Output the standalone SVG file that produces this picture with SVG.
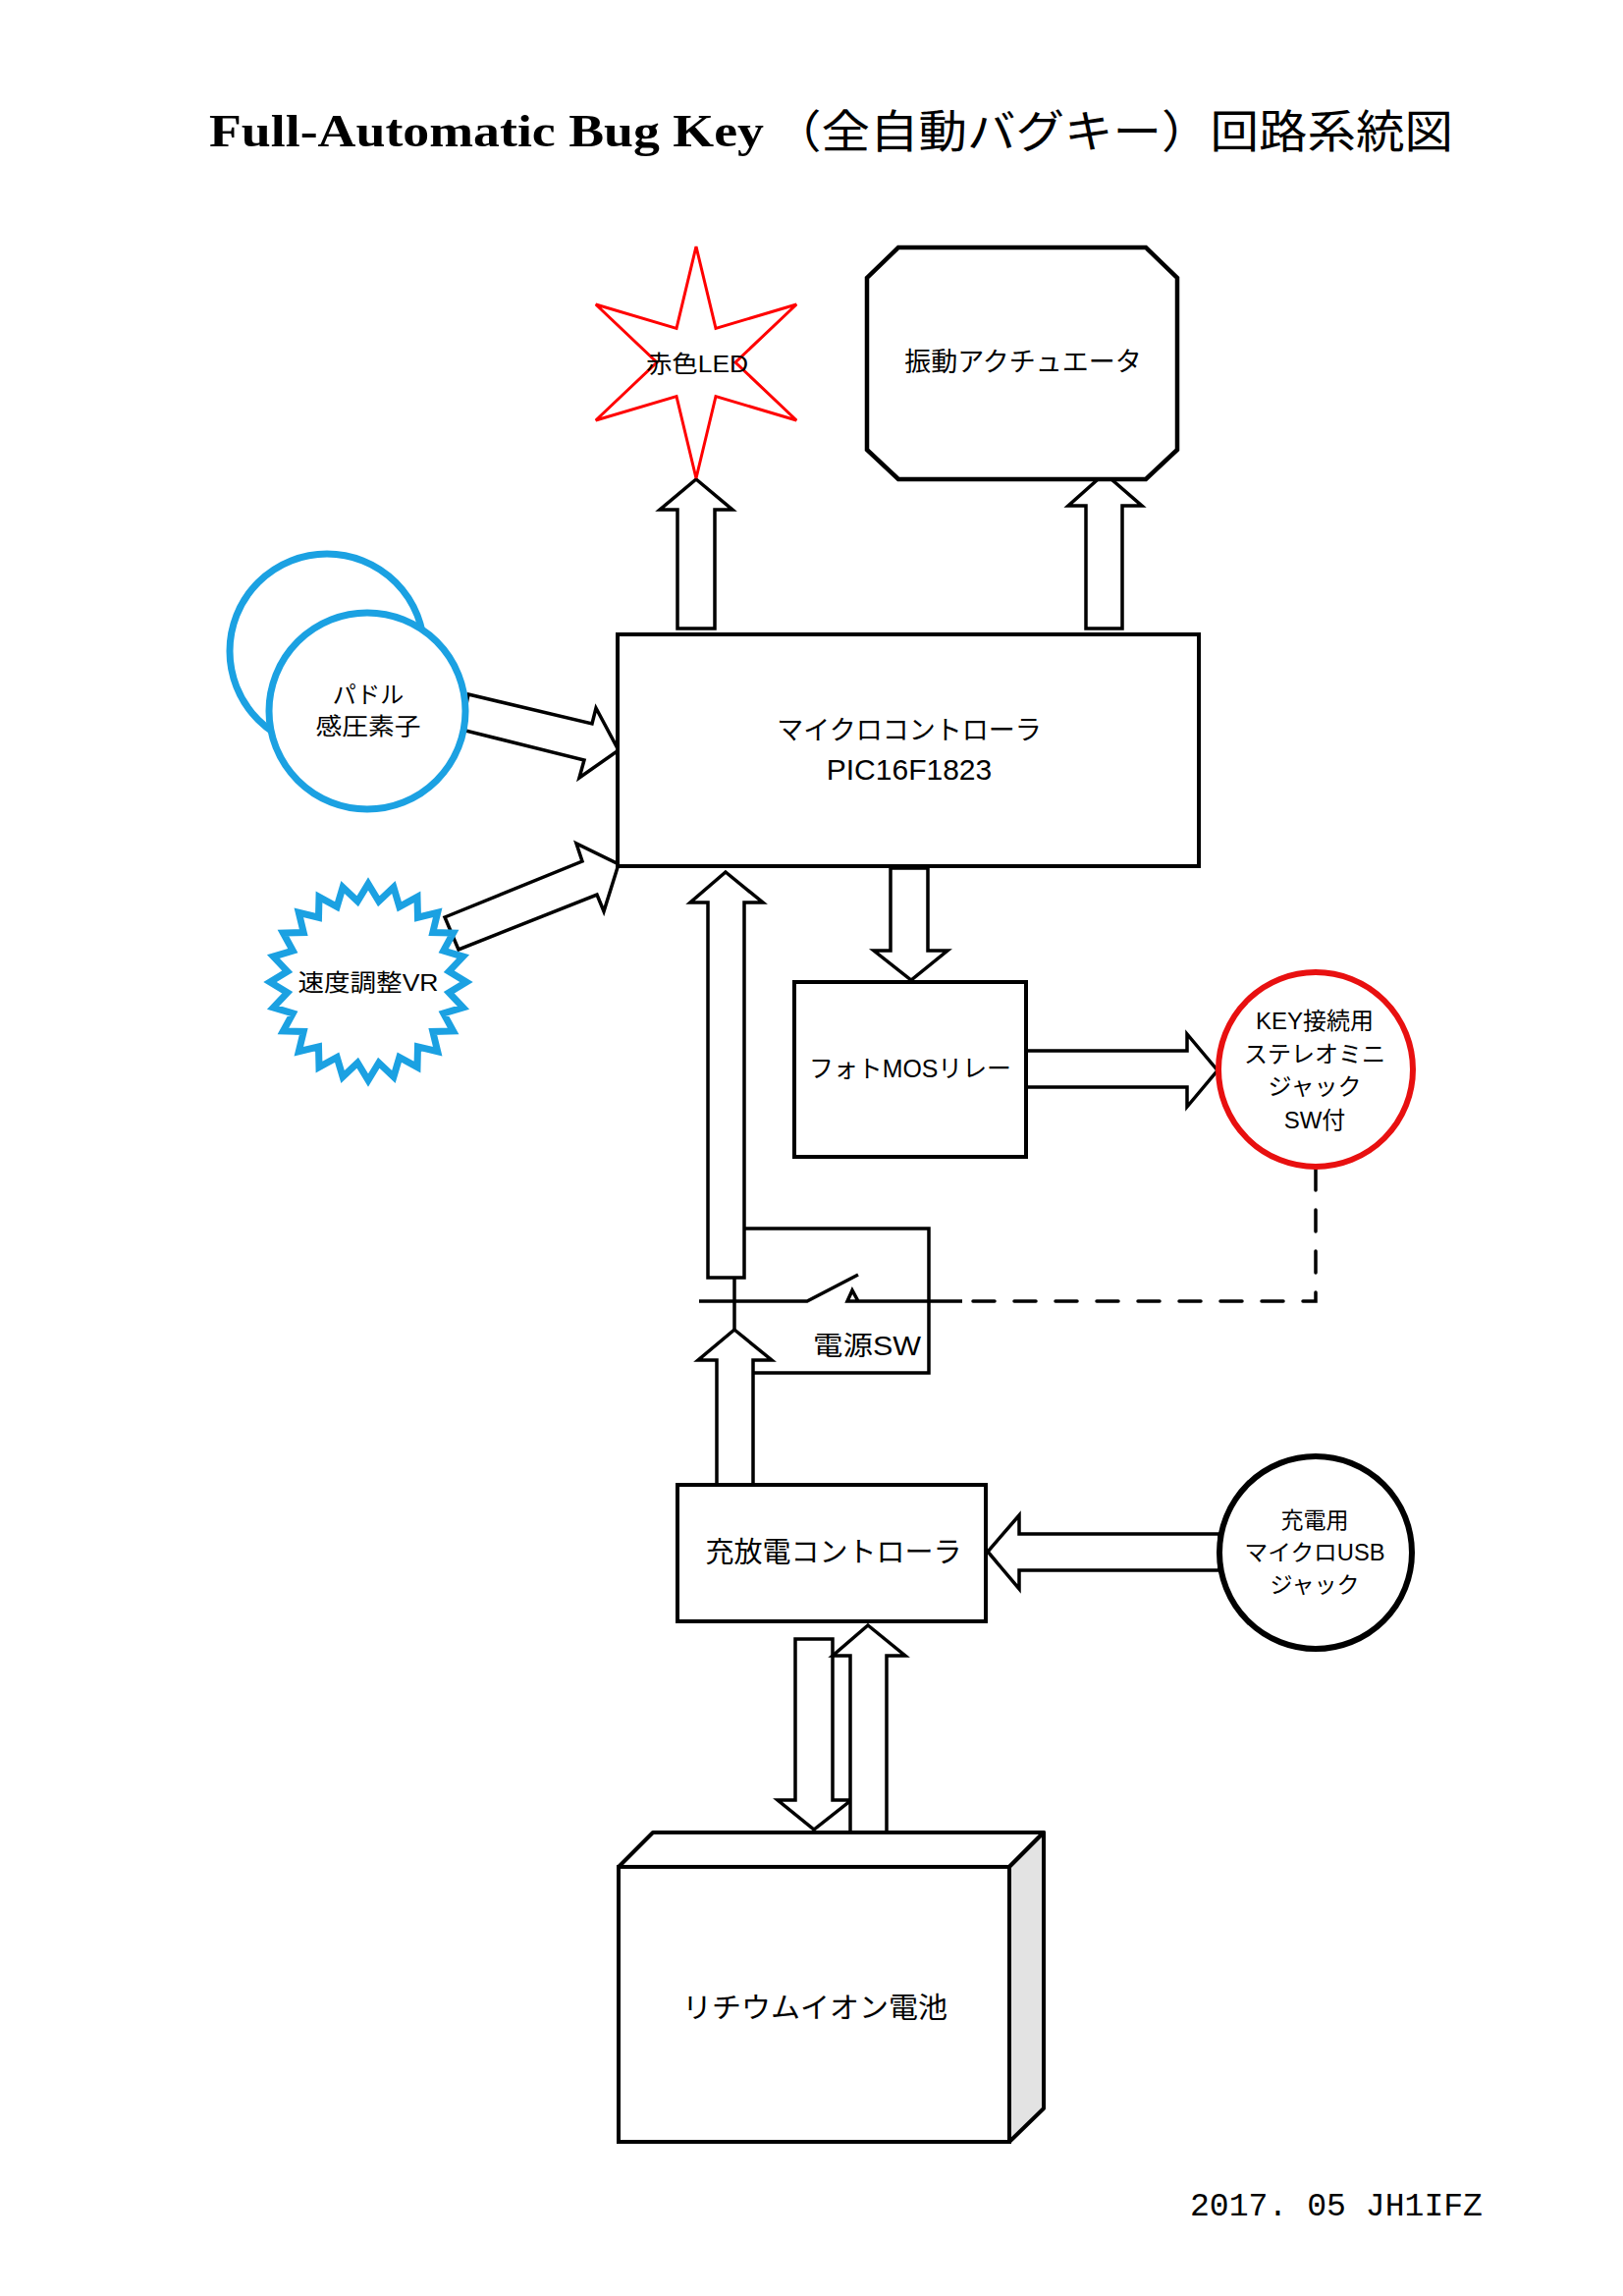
<svg xmlns="http://www.w3.org/2000/svg" width="1653" height="2338" viewBox="0 0 1653 2338">
<style>
.box{fill:#fff;stroke:#000;stroke-width:4}
.arr{fill:#fff;stroke:#000;stroke-width:3.5;stroke-linejoin:miter}
.ln{fill:none;stroke:#000;stroke-width:3.5}
.t{font-family:"Liberation Sans","Noto Sans CJK JP",sans-serif;fill:#000;text-anchor:middle}
.blue{fill:#fff;stroke:#1ba1e2;stroke-width:7}
</style>
<rect width="1653" height="2338" fill="#fff"/>
<g id="title">
<text x="213" y="149" font-family="Liberation Serif, serif" font-weight="bold" font-size="46" textLength="565" lengthAdjust="spacingAndGlyphs">Full-Automatic Bug Key</text>
<text x="787" y="150" font-family="Liberation Serif, Noto Sans CJK JP, serif" font-size="46" textLength="693" lengthAdjust="spacingAndGlyphs">（全自動バグキー）回路系統図</text>
</g>
<g id="connectors">
<polygon class="arr" points="709,488 746,519 728,519 728,640 690,640 690,519 672,519"/>
<polygon class="arr" points="1125,482 1163,515 1143,515 1143,640 1106,640 1106,515 1088,515"/>
<polygon class="arr" points="477,707 603,737 607,721 630,764 590,792 595,774 470,743"/>
<polygon class="arr" points="453,934 593,877 587,859 630,880 615,928 608,911 467,967"/>
<polygon class="arr" points="907,884 945,884 945,968 965,968 928,998 890,968 907,968"/>
<polygon class="arr" points="1045,1070 1209,1070 1209,1053 1240,1090 1209,1127 1209,1107 1045,1107"/>
<polygon class="arr" points="739,888 777,919 758,919 758,1301 721,1301 721,919 703,919"/>
<polygon class="arr" points="748,1354 786,1385 767,1385 767,1512 730,1512 730,1385 711,1385"/>
<polygon class="arr" points="1242,1562 1038,1562 1038,1543 1006,1580 1038,1618 1038,1599 1242,1599"/>
<polygon class="arr" points="810,1669 848,1669 848,1833 867,1833 829,1863 792,1833 810,1833"/>
<polygon class="arr" points="884,1655 922,1686 903,1686 903,1866 866,1866 866,1686 848,1686"/>
<path class="ln" d="M748 1301 V1354"/>
<path class="ln" d="M712 1325 H822 L874 1298"/>
<path class="ln" d="M863 1325 L868 1314 L874 1325 Z M868 1325 H980"/>
<path class="ln" d="M1340 1190 V1325 H980" stroke-width="5" stroke-linecap="round" stroke-dasharray="22 20"/>
</g>
<g id="power-sw">
<path class="ln" d="M759 1251 H946 V1398 H767"/>
<text class="t" x="883" y="1380" font-size="27" textLength="110" lengthAdjust="spacingAndGlyphs">電源SW</text>
</g>
<g id="led">
<polygon points="709,251 729,334.4 811.2,310 749,369 811.2,428 729,403.6 709,487 689,403.6 606.8,428 669,369 606.8,310 689,334.4" fill="#fff" stroke="#ff0000" stroke-width="3"/>
<text class="t" x="710" y="379" font-size="24" textLength="104" lengthAdjust="spacingAndGlyphs">赤色LED</text>
</g>
<g id="actuator">
<polygon points="915,252 1167,252 1199,283 1199,458 1167,488 915,488 883,458 883,283" fill="#fff" stroke="#000" stroke-width="4.5"/>
<text class="t" x="1042" y="378" font-size="27">振動アクチュエータ</text>
</g>
<g id="mcu">
<rect class="box" x="629" y="646" width="592" height="236"/>
<text class="t" x="926" y="753" font-size="27">マイクロコントローラ</text>
<text class="t" x="926" y="794" font-size="30">PIC16F1823</text>
</g>
<g id="paddle">
<circle class="blue" cx="333" cy="663" r="99"/>
<circle class="blue" cx="374" cy="724" r="100"/>
<text class="t" x="375" y="716" font-size="24">パドル</text>
<text class="t" x="375" y="748" font-size="24" textLength="107" lengthAdjust="spacingAndGlyphs">感圧素子</text>
</g>
<g id="speed-vr">
<polygon class="blue" stroke-width="5" points="375,900 385.8,917.7 400.9,903.4 406.8,923.3 425,913.4 425.5,934.2 445.7,929.3 440.8,949.5 461.6,950 451.7,968.2 471.6,974.1 457.3,989.2 475,1000 457.3,1010.8 471.6,1025.9 451.7,1031.8 461.6,1050 440.8,1050.5 445.7,1070.7 425.5,1065.8 425,1086.6 406.8,1076.7 400.9,1096.6 385.8,1082.3 375,1100 364.2,1082.3 349.1,1096.6 343.2,1076.7 325,1086.6 324.5,1065.8 304.3,1070.7 309.2,1050.5 288.4,1050 298.3,1031.8 278.4,1025.9 292.7,1010.8 275,1000 292.7,989.2 278.4,974.1 298.3,968.2 288.4,950 309.2,949.5 304.3,929.3 324.5,934.2 325,913.4 343.2,923.3 349.1,903.4 364.2,917.7"/>
<text class="t" x="375" y="1009" font-size="24" textLength="143" lengthAdjust="spacingAndGlyphs">速度調整VR</text>
</g>
<g id="relay">
<rect class="box" x="809" y="1000" width="236" height="178"/>
<text class="t" x="927" y="1097" font-size="25" textLength="206" lengthAdjust="spacingAndGlyphs">フォトMOSリレー</text>
</g>
<g id="key-jack">
<circle cx="1340" cy="1089" r="99" fill="#fff" stroke="#e81010" stroke-width="6"/>
<text class="t" x="1339" y="1048" font-size="24">KEY接続用</text>
<text class="t" x="1339" y="1082" font-size="24">ステレオミニ</text>
<text class="t" x="1339" y="1115" font-size="24">ジャック</text>
<text class="t" x="1339" y="1149" font-size="24">SW付</text>
</g>
<g id="charge-ctrl">
<rect class="box" x="690" y="1512" width="314" height="139"/>
<text class="t" x="849" y="1591" font-size="29">充放電コントローラ</text>
</g>
<g id="usb-jack">
<circle cx="1340" cy="1581" r="98" fill="#fff" stroke="#000" stroke-width="6"/>
<text class="t" x="1339" y="1556" font-size="23">充電用</text>
<text class="t" x="1339" y="1589" font-size="23" textLength="143" lengthAdjust="spacingAndGlyphs">マイクロUSB</text>
<text class="t" x="1339" y="1622" font-size="23">ジャック</text>
</g>
<g id="battery">
<polygon points="630,1901 665,1866 1063,1866 1028,1901" fill="#fff" stroke="#000" stroke-width="4" stroke-linejoin="round"/>
<polygon points="1028,1901 1063,1866 1063,2147 1028,2181" fill="#e3e3e3" stroke="#000" stroke-width="4" stroke-linejoin="round"/>
<rect class="box" x="630" y="1901" width="398" height="280"/>
<text class="t" x="830" y="2055" font-size="29" textLength="270" lengthAdjust="spacingAndGlyphs">リチウムイオン電池</text>
</g>
<g id="footer">
<text x="1212" y="2256" font-family="Liberation Mono, monospace" font-size="33" textLength="298" lengthAdjust="spacingAndGlyphs">2017. 05 JH1IFZ</text>
</g>
</svg>
